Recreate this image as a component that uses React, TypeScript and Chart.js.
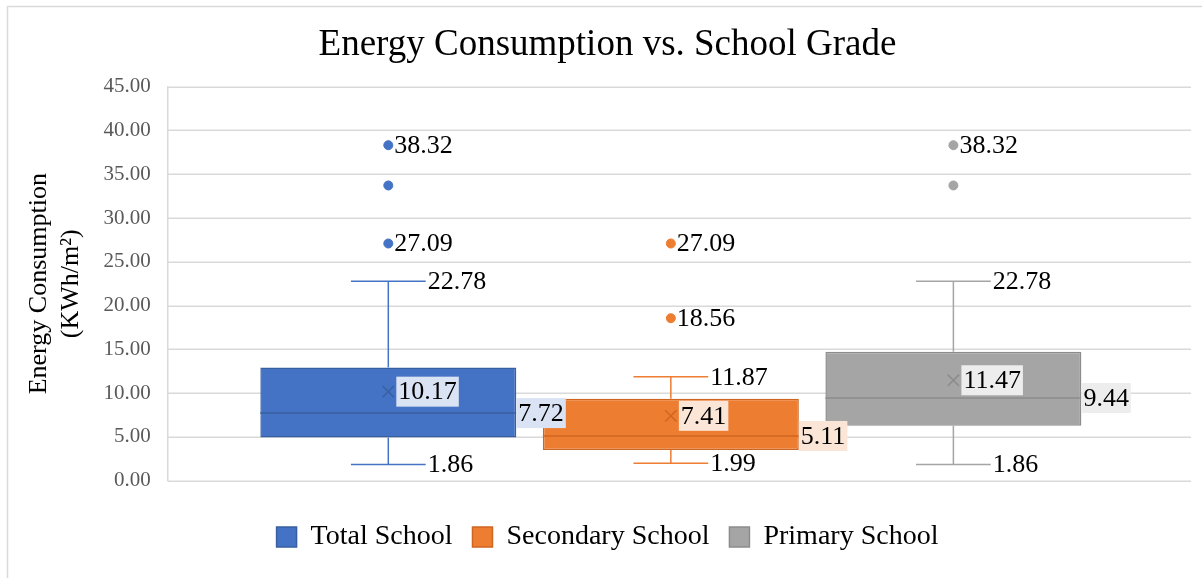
import React, { useEffect, useRef } from "react";
import { Chart, registerables } from "chart.js";

Chart.register(...registerables);

// ---- data ----
const chartTitle = "Energy Consumption vs. School Grade";
const axisTitle = ["Energy Consumption", "(KWh/m²)"];
const seriesNames = ["Total School", "Secondary School", "Primary School"];
const seriesSlots = [1, 2, 3];
const whiskerLow = [1.86, 1.99, 1.86];
const quartile1 = [4.93, 3.5, 6.28];
const medians = [7.72, 5.11, 9.44];
const quartile3 = [12.93, 9.37, 14.73];
const whiskerHigh = [22.78, 11.87, 22.78];
const means = [10.17, 7.41, 11.47];
const outliers = [
  [27.09, 33.72, 38.32],
  [18.56, 27.09],
  [33.72, 38.32],
];
const labelledOutliers = [[27.09, 38.32], [18.56, 27.09], [38.32]];
const yMin = 0;
const yMax = 45;
const yStep = 5;

// ---- styles / layout ----
const fills = ["#4472C4", "#ED7D31", "#A5A5A5"];
const edges = ["#38609F", "#CF6620", "#8C8C8C"];
const labelBgs = ["#DAE3F3", "#FBE5D6", "#EDEDED"];
const gridColor = "#D9D9D9";
const FONT = '"Liberation Serif", "Times New Roman", serif';
const xRangeMin = 0.219;
const xRangeMax = 3.841;
const barPct = 0.906;
const capRatio = 0.146;
const labelSize = 26;

function fmt(v: number) {
  return v.toFixed(2);
}

function drawLabel(ctx: CanvasRenderingContext2D, text: string, x: number, y: number, bg?: string) {
  ctx.font = `${labelSize}px ${FONT}`;
  ctx.textBaseline = "middle";
  ctx.textAlign = "left";
  const w = ctx.measureText(text).width;
  if (bg) {
    ctx.fillStyle = bg;
    ctx.fillRect(x, y - 15, w + 4, 30);
  }
  ctx.fillStyle = "#000000";
  ctx.fillText(text, x + 2, y + 1);
}

const boxPlugin = {
  id: "boxParts",
  beforeDraw(chart: any) {
    const { ctx, width, height } = chart;
    ctx.save();
    ctx.fillStyle = "#FFFFFF";
    ctx.fillRect(0, 0, width, height);
    ctx.strokeStyle = gridColor;
    ctx.lineWidth = 1.5;
    ctx.beginPath();
    ctx.moveTo(7.5, height);
    ctx.lineTo(7.5, 6.5);
    ctx.lineTo(width, 6.5);
    ctx.stroke();
    ctx.restore();
  },
  beforeDatasetsDraw(chart: any) {
    const ctx: CanvasRenderingContext2D = chart.ctx;
    const ys = chart.scales.y;
    const { left, right } = chart.chartArea;
    ctx.save();
    ctx.strokeStyle = gridColor;
    ctx.lineWidth = 1.5;
    ys.ticks.forEach((t: any) => {
      const y = Math.round(ys.getPixelForValue(t.value)) + 0.25;
      ctx.beginPath();
      ctx.moveTo(left, y);
      ctx.lineTo(right, y);
      ctx.stroke();
    });
    ctx.restore();
  },
  afterDatasetsDraw(chart: any) {
    const ctx: CanvasRenderingContext2D = chart.ctx;
    const xs = chart.scales.x;
    const ys = chart.scales.y;
    const py = (v: number) => ys.getPixelForValue(v);
    const line = (x1: number, y1: number, x2: number, y2: number) => {
      ctx.beginPath();
      ctx.moveTo(x1, y1);
      ctx.lineTo(x2, y2);
      ctx.stroke();
    };
    ctx.save();
    const geo = seriesNames.map((_, i) => {
      const bar = chart.getDatasetMeta(i).data[0];
      return { cx: xs.getPixelForValue(seriesSlots[i]), half: bar.width / 2, cap: bar.width * capRatio };
    });
    geo.forEach(({ cx, half, cap }, i) => {
      ctx.strokeStyle = fills[i];
      ctx.lineWidth = 1.5;
      line(cx, py(quartile3[i]), cx, py(whiskerHigh[i]));
      line(cx - cap, py(whiskerHigh[i]), cx + cap, py(whiskerHigh[i]));
      line(cx, py(quartile1[i]), cx, py(whiskerLow[i]));
      line(cx - cap, py(whiskerLow[i]), cx + cap, py(whiskerLow[i]));
      ctx.strokeStyle = edges[i];
      line(cx - half, py(medians[i]), cx + half, py(medians[i]));
    });
    geo.forEach(({ cx, half, cap }, i) => {
      drawLabel(ctx, fmt(whiskerHigh[i]), cx + cap, py(whiskerHigh[i]));
      drawLabel(ctx, fmt(whiskerLow[i]), cx + cap, py(whiskerLow[i]));
      drawLabel(ctx, fmt(means[i]), cx + 8, py(means[i]), labelBgs[i]);
      drawLabel(ctx, fmt(medians[i]), cx + half, py(medians[i]), labelBgs[i]);
      labelledOutliers[i].forEach((v) => drawLabel(ctx, fmt(v), cx + 4, py(v)));
    });
    ctx.restore();
  },
};

export default function App() {
  const canvasRef = useRef<HTMLCanvasElement | null>(null);

  useEffect(() => {
    document.body.style.margin = "0";
    const canvas = canvasRef.current;
    if (!canvas) return;

    const boxSets = seriesNames.map((name, i) => ({
      type: "bar" as const,
      label: name,
      data: [{ x: seriesSlots[i], y: [quartile1[i], quartile3[i]] }],
      backgroundColor: fills[i],
      borderColor: edges[i],
      borderWidth: 1.5,
      borderSkipped: false,
      grouped: false,
      categoryPercentage: 1,
      barPercentage: barPct,
      order: 10,
    }));
    const outlierSets = seriesNames.map((name, i) => ({
      type: "scatter" as const,
      label: name + " outliers",
      data: outliers[i].map((v) => ({ x: seriesSlots[i], y: v })),
      pointRadius: 4.5,
      pointBackgroundColor: fills[i],
      pointBorderColor: fills[i],
      pointBorderWidth: 1,
      order: 0,
    }));
    const meanSets = seriesNames.map((name, i) => ({
      type: "scatter" as const,
      label: name + " mean",
      data: [{ x: seriesSlots[i], y: means[i] }],
      pointStyle: "crossRot",
      pointRadius: 8,
      pointBorderColor: edges[i],
      pointBorderWidth: 1.5,
      order: 0,
    }));

    const chart = new Chart(canvas, {
      type: "bar",
      data: {
        datasets: [...boxSets, ...outlierSets, ...meanSets] as any,
      },
      options: {
        animation: false,
        responsive: false,
        devicePixelRatio: 1,
        layout: { padding: { left: 24, right: 11, top: 0, bottom: 17 } },
        plugins: {
          tooltip: { enabled: false },
          title: {
            display: true,
            text: chartTitle,
            color: "#000000",
            font: { family: FONT, size: 37, weight: "normal", lineHeight: 1.2 },
            padding: { top: 23, bottom: 19.3 },
          },
          legend: {
            position: "bottom",
            labels: {
              filter: (item: any) => item.datasetIndex < 3,
              boxWidth: 20,
              boxHeight: 20,
              padding: 20,
              color: "#000000",
              font: { family: FONT, size: 28 },
            },
          },
        },
        scales: {
          x: {
            type: "linear",
            min: xRangeMin,
            max: xRangeMax,
            offset: false,
            grid: { display: false },
            border: { display: false },
            ticks: { display: false },
            afterBuildTicks: (s: any) => {
              s.ticks = s.ticks.filter((_: any, k: number, a: any[]) => k === 0 || k === a.length - 1);
            },
            afterFit: (s: any) => {
              s.height = 22.3;
            },
          },
          y: {
            min: yMin,
            max: yMax,
            ticks: {
              stepSize: yStep,
              padding: 17,
              color: "#595959",
              font: { family: FONT, size: 21 },
              callback: (v: any) => Number(v).toFixed(2),
            },
            grid: { display: false, drawTicks: false },
            border: { display: true, color: gridColor, width: 1.5 },
            title: {
              display: true,
              text: axisTitle,
              color: "#000000",
              font: { family: FONT, size: 26, lineHeight: 1.2 },
              padding: { top: 0, bottom: 0 },
            },
          },
        } as any,
      },
      plugins: [boxPlugin],
    });

    return () => chart.destroy();
  }, []);

  return (
    <div style={{ position: "absolute", left: 0, top: 0, width: 1202, height: 578 }}>
      <canvas ref={canvasRef} width={1202} height={578} style={{ display: "block", width: 1202, height: 578 }} />
    </div>
  );
}
